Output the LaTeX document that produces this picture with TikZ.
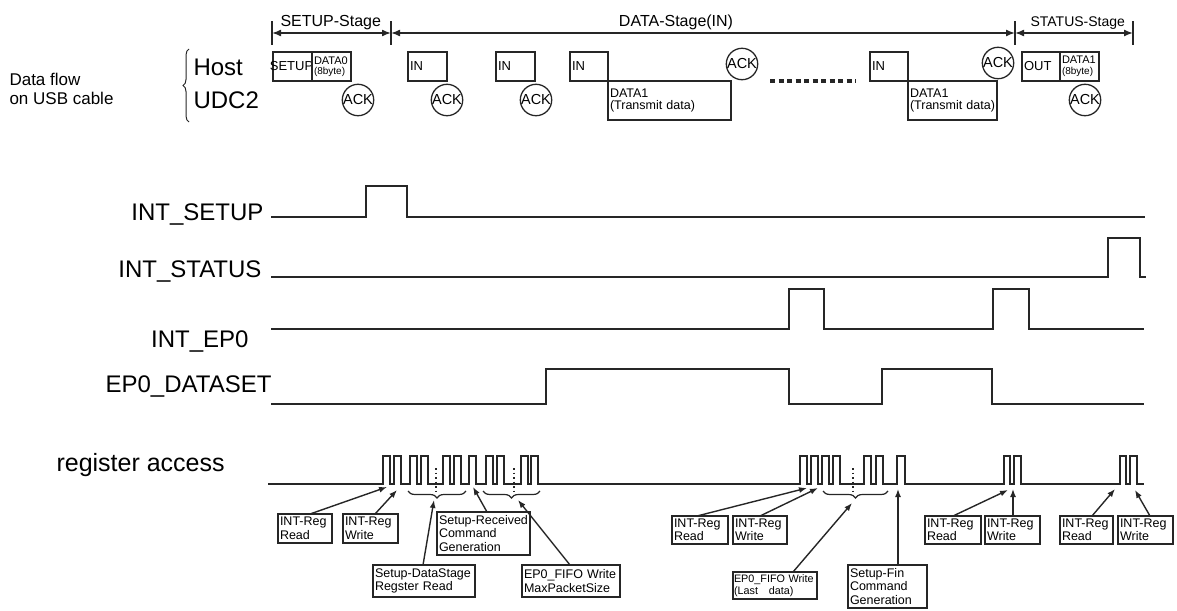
\documentclass[tikz,border=0pt]{standalone}
\usepackage{fontspec}
\setmainfont{Liberation Sans}
\usetikzlibrary{arrows.meta, calc, decorations.pathreplacing}

\begin{document}
\begin{tikzpicture}[
    x=1pt, y=-1pt,
    >=Latex,
    sig/.style={line width=1.6pt, black!85},
    tick/.style={line width=1.5pt, black!85},
    span/.style={line width=1.5pt, black!85,
        {Latex[length=9pt,width=7pt]}-{Latex[length=9pt,width=7pt]}},
    pkt/.style={
        rectangle, draw=black!85, line width=1.3pt, anchor=north west,
        align=left, inner xsep=2pt, inner ysep=1pt, outer sep=0pt,
        font=\fontsize{13}{13}\selectfont
    },
    ack/.style={
        circle, draw=black!85, line width=1.3pt, minimum size=30pt,
        inner sep=0pt, font=\fontsize{14.5}{14.5}\selectfont
    },
    note/.style={
        rectangle, draw=black!85, line width=1.3pt, anchor=north west,
        align=left, inner xsep=2pt, inner ysep=1pt, outer sep=0pt,
        font=\fontsize{12.5}{13.5}\selectfont
    },
    signame/.style={anchor=base east, font=\fontsize{24}{24}\selectfont},
    stage/.style={font=\fontsize{16}{16}\selectfont},
    brc/.style={decorate, decoration={brace, amplitude=7pt}, line width=1.2pt, black!85},
    dots/.style={line width=1.1pt, black!85, dash pattern=on 1.5pt off 3pt},
    arr/.style={line width=1.4pt, black!85, -{Latex[length=8pt,width=6pt]}},
]
\useasboundingbox (0,0) rectangle (1177,610);

% Stage spans
\coordinate (t0) at (272,33);
\coordinate (t1) at (391,33);
\coordinate (t2) at (1015,33);
\coordinate (t3) at (1133,33);
\foreach \t in {t0,t1,t2,t3}
    \draw[tick] ([yshift=-12pt]\t) -- ([yshift=12pt]\t);
\draw[span] (t0) -- (t1);
\draw[span] (t1) -- (t2);
\draw[span] (t2) -- (t3);
\node[stage, anchor=base west] (stgSetup) at (277,27) {SETUP-Stage};
\node[stage, anchor=base] (stgData) at (676,27) {DATA-Stage(IN)};
\node[stage, anchor=base west, font=\fontsize{14}{14}\selectfont] (stgStatus) at (1027,27) {STATUS-Stage};

% USB cable rows
\node[anchor=west, align=left, font=\fontsize{17}{19}\selectfont] (flow) at (6,89)
    {Data flow\\on USB cable};
\draw[brc, decoration={amplitude=6pt}, line width=1pt] (189,122) -- (189,49);
\node[anchor=base west, font=\fontsize{24}{24}\selectfont] (host) at (190,75) {Host};
\node[anchor=base west, font=\fontsize{24}{24}\selectfont] (udc) at (190,108) {UDC2};

% Host packets
\node[pkt, minimum width=39pt, minimum height=29pt, text width=35pt,
    font=\fontsize{13}{13}\selectfont] (setup) at (273,52) {\hbox to 35pt{\hss SETUP\hskip 2pt\hss}};
\node[pkt, minimum width=39pt, minimum height=29pt, text width=35pt,
    font=\fontsize{11}{10.5}\selectfont] (data0) at (312,52)
    {DATA0\\{\fontsize{10}{10}\selectfont(8byte)}};
\node[pkt, minimum width=39pt, minimum height=29pt, text width=35pt] (in1) at (408,52) {IN};
\node[pkt, minimum width=39pt, minimum height=29pt, text width=35pt] (in2) at (496,52) {IN};
\node[pkt, minimum width=38pt, minimum height=29pt, text width=34pt] (in3) at (570,52) {IN};
\node[pkt, minimum width=38pt, minimum height=29pt, text width=34pt] (in4) at (870,52) {IN};
\node[pkt, minimum width=38pt, minimum height=29pt, text width=34pt] (out) at (1022,52) {OUT};
\node[pkt, minimum width=39pt, minimum height=29pt, text width=35pt,
    font=\fontsize{11}{10.5}\selectfont] (data1s) at (1060,52)
    {DATA1\\{\fontsize{10}{10}\selectfont(8byte)}};

% UDC2 packets
\node[pkt, minimum width=123pt, minimum height=39pt, text width=119pt,
    font=\fontsize{12.5}{12}\selectfont] (data1a) at (608,81)
    {DATA1\\(Transmit data)\\[3pt]};
\node[pkt, minimum width=89pt, minimum height=39pt, text width=85pt,
    font=\fontsize{12.5}{12}\selectfont] (data1b) at (908,81)
    {DATA1\\(Transmit data)\\[3pt]};

% Handshakes
\node[ack] (ack1) at (358,100) {ACK};
\node[ack] (ack2) at (447,100) {ACK};
\node[ack] (ack3) at (536,100) {ACK};
\node[ack] (ack4) at (742,64) {ACK};
\node[ack] (ack5) at (998,63) {ACK};
\node[ack] (ack6) at (1085,100) {ACK};

% Repeated transfers
\coordinate (gapL) at (770,81);
\coordinate (gapR) at (856,81);
\draw[line width=4pt, black!85, dash pattern=on 5pt off 3.5pt] (gapL) -- (gapR);

% Signal names
\node[signame] (nSetup) at (267,220) {INT\_SETUP};
\node[signame] (nStatus) at (265,277) {INT\_STATUS};
\node[signame] (nEp) at (252,347) {INT\_EP0};
\node[signame] (nDataset) at (275,392) {EP0\_DATASET};
\node[anchor=base west, font=\fontsize{25}{25}\selectfont] (nReg) at (53,471) {register access};

% Waveforms
\draw[sig] (271,217) -| (366,186) -| (407,217) -- (1145,217);
\draw[sig] (271,277) -| (1108,238) -| (1140,277) -- (1146,277);
\draw[sig] (271,329) -| (789,289) -| (824,329) -| (993,289) -| (1029,329) -- (1144,329);
\draw[sig] (271,404) -| (546,369) -| (789,404) -| (882,369) -| (992,404) -- (1144,404);

% Register access bursts
\draw[sig] (268,484)
    -| (383,456) -| (390,484) -| (394,456) -| (401,484)
    -| (410,456) -| (417,484) -| (421,456) -| (428,484)
    -| (443,456) -| (450,484) -| (454,456) -| (461,484)
    -| (469,456) -| (476,484)
    -| (486,456) -| (493,484) -| (497,456) -| (504,484)
    -| (521,456) -| (528,484) -| (531,456) -| (538,484)
    -| (800,456) -| (807,484) -| (811,456) -| (818,484)
    -| (822,456) -| (829,484) -| (833,456) -| (840,484)
    -| (864,456) -| (871,484) -| (876,456) -| (883,484)
    -| (897,456) -| (905,484)
    -| (1004,456) -| (1010,484) -| (1014,456) -| (1021,484)
    -| (1120,456) -| (1126,484) -| (1130,456) -| (1137,484)
    -- (1144,484);
\draw[dots] (436,468) -- (436,495);
\draw[dots] (514,468) -- (514,495);
\draw[dots] (853,468) -- (853,495);
\draw[brc] (466,491) -- (408,491);
\draw[brc] (540,491) -- (483,491);
\draw[brc] (888,491) -- (823,491);

% Annotation boxes
\node[note, minimum width=54pt, minimum height=29pt, text width=50pt] (rdA) at (278,514) {INT-Reg\\Read};
\node[note, minimum width=55pt, minimum height=29pt, text width=51pt] (wrA) at (343,514) {INT-Reg\\Write};
\node[note, minimum width=93pt, minimum height=43pt, text width=89pt] (rcvCmd) at (437,512)
    {Setup-Received\\Command\\Generation};
\node[note, minimum width=102pt, minimum height=32pt, text width=98pt] (dsRead) at (373,565)
    {Setup-DataStage\\Regster Read};
\node[note, minimum width=98pt, minimum height=32pt, text width=94pt] (fifoMax) at (522,565)
    {EP0\_FIFO Write\\MaxPacketSize};
\node[note, minimum width=56pt, minimum height=28pt, text width=52pt] (rdB) at (672,516) {INT-Reg\\Read};
\node[note, minimum width=54pt, minimum height=28pt, text width=50pt] (wrB) at (733,516) {INT-Reg\\Write};
\node[note, minimum width=84pt, minimum height=27pt, text width=82pt, inner xsep=1pt,
    font=\fontsize{10.8}{12}\selectfont] (fifoLast) at (733,572)
    {EP0\_FIFO\ Write\\(Last\quad data)};
\node[note, minimum width=79pt, minimum height=43pt, text width=75pt] (finCmd) at (848,565)
    {Setup-Fin\\Command\\Generation};
\node[note, minimum width=56pt, minimum height=28pt, text width=52pt] (rdC) at (925,516) {INT-Reg\\Read};
\node[note, minimum width=55pt, minimum height=28pt, text width=51pt] (wrC) at (985,516) {INT-Reg\\Write};
\node[note, minimum width=53pt, minimum height=28pt, text width=49pt] (rdD) at (1060,516) {INT-Reg\\Read};
\node[note, minimum width=55pt, minimum height=28pt, text width=51pt] (wrD) at (1118,516) {INT-Reg\\Write};

% Arrow targets on the access line
\coordinate (pRdA) at (387,487);
\coordinate (pWrA) at (397,490);
\coordinate (pDs) at (434,500);
\coordinate (pRcv) at (473,487);
\coordinate (pFifoMax) at (518,500);
\coordinate (pRdB) at (807,488);
\coordinate (pWrB) at (818,488);
\coordinate (pFifoLast) at (852,503);
\coordinate (pFin) at (898,489);
\coordinate (pRdC) at (1008,490);
\coordinate (pWrC) at (1013,489);
\coordinate (pRdD) at (1115,489);
\coordinate (pWrD) at (1135,490);

\draw[arr] ([xshift=32pt]rdA.north west) -- (pRdA);
\draw[arr] ([xshift=32pt]wrA.north west) -- (pWrA);
\draw[arr] ([xshift=50pt]dsRead.north west) -- (pDs);
\draw[arr] ([xshift=50pt]rcvCmd.north west) -- (pRcv);
\draw[arr] ([xshift=48pt]fifoMax.north west) -- (pFifoMax);
\draw[arr] ([xshift=25pt]rdB.north west) -- (pRdB);
\draw[arr] ([xshift=27pt]wrB.north west) -- (pWrB);
\draw[arr] ([xshift=60pt]fifoLast.north west) -- (pFifoLast);
\draw[arr] ([xshift=50pt]finCmd.north west) -- (pFin);
\draw[arr] ([xshift=28pt]rdC.north west) -- (pRdC);
\draw[arr] ([xshift=28pt]wrC.north west) -- (pWrC);
\draw[arr] ([xshift=32pt]rdD.north west) -- (pRdD);
\draw[arr] ([xshift=32pt]wrD.north west) -- (pWrD);

\end{tikzpicture}
\end{document}
